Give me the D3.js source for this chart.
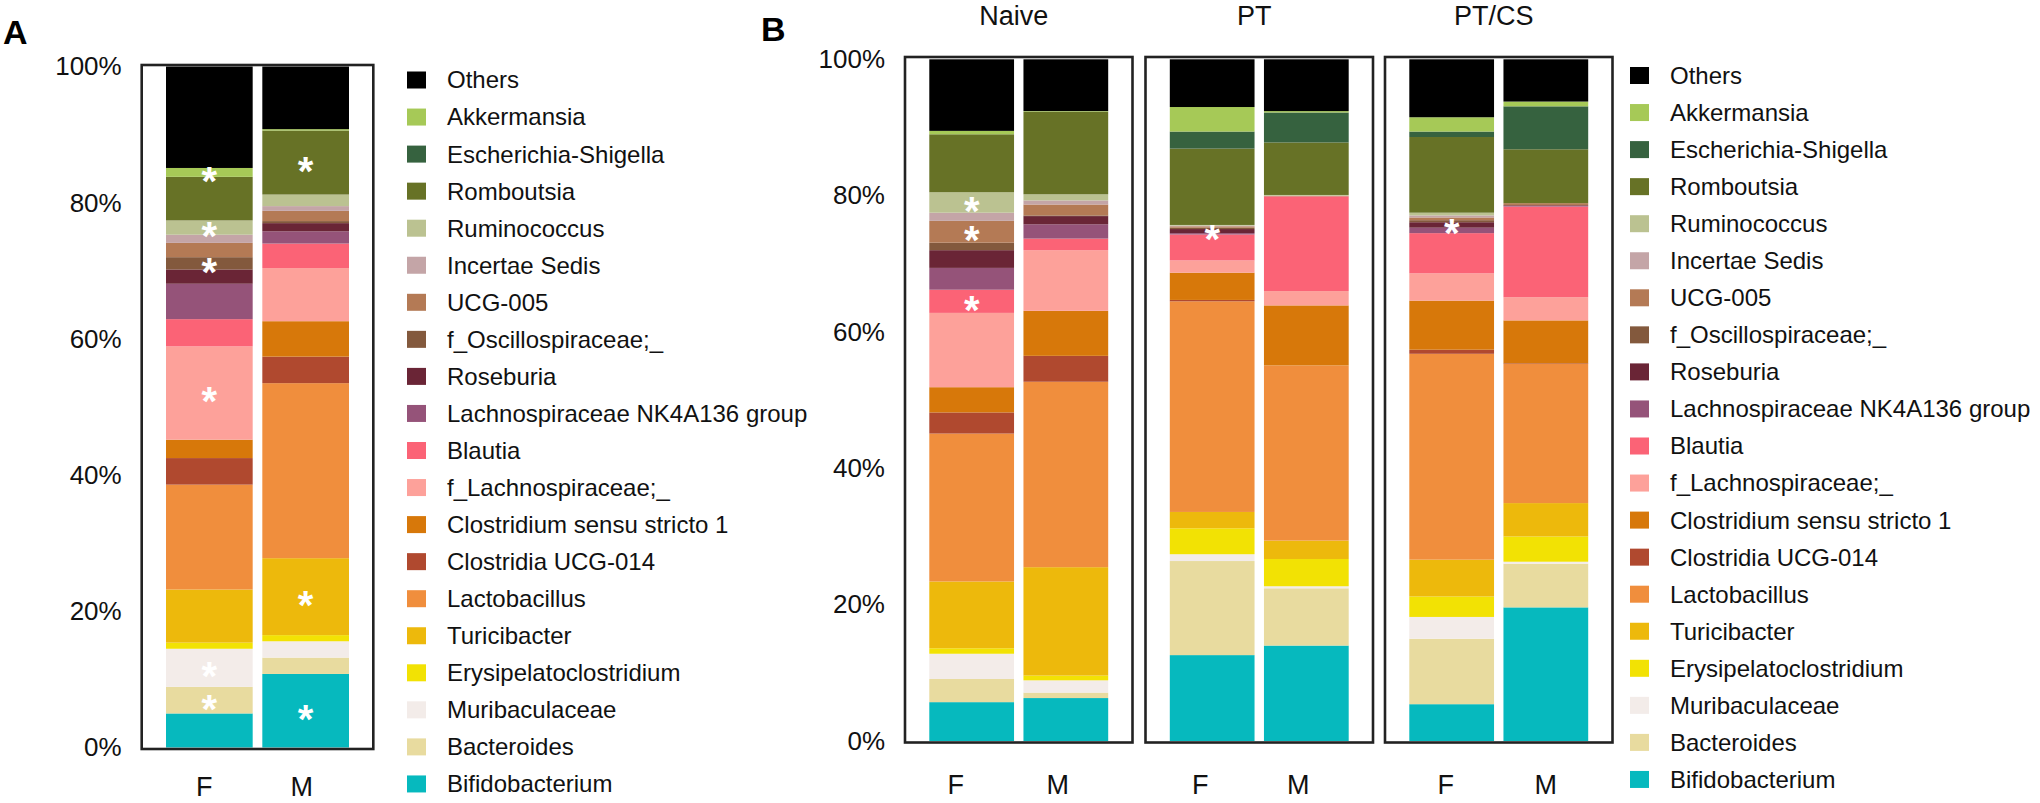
<!DOCTYPE html>
<html><head><meta charset="utf-8">
<script src="https://cdn.jsdelivr.net/npm/d3@7"></script>
<style>
body{margin:0;background:#fff}
text{font-family:"Liberation Sans",Arial,Helvetica,sans-serif}
</style>
</head><body>
<svg id="chart" width="2040" height="803"></svg>
<script>
// ---- data (stack order: bottom -> top) ----
const taxa = ["Bifidobacterium","Bacteroides","Muribaculaceae","Erysipelatoclostridium","Turicibacter",
  "Lactobacillus","Clostridia UCG-014","Clostridium sensu stricto 1","f_Lachnospiraceae;_","Blautia",
  "Lachnospiraceae NK4A136 group","Roseburia","f_Oscillospiraceae;_","UCG-005","Incertae Sedis",
  "Ruminococcus","Romboutsia","Escherichia-Shigella","Akkermansia","Others"];
const colors = ["#06B9BE","#E8DB9F","#F3ECE9","#F2E204","#EDB90C",
  "#F08E3D","#B0492F","#D7780A","#FDA19A","#FB6376",
  "#955379","#6A2536","#83593D","#B47A55","#C4A5A7",
  "#BBC291","#677226","#36623F","#A6C957","#000000"];
const sexes = ["F","M"];
const yTicks = [0,20,40,60,80,100];
const treatments = ["Naive","PT","PT/CS"];

// Panel A (percent)
const aF = [5.0,3.9,5.6,0.9,7.8,15.4,3.9,2.7,13.7,4.0,5.2,2.1,1.8,2.1,1.2,2.1,6.4,0.0,1.3,14.9];
const aM = [10.8,2.4,2.4,0.9,11.3,25.7,3.9,5.2,7.8,3.6,1.8,1.2,0.3,1.5,0.7,1.7,9.4,0.0,0.2,9.2];
// Panel B (percent)
const naiveF = [5.7,3.4,3.7,0.8,9.8,21.7,3.1,3.7,10.9,3.4,3.2,2.6,1.1,3.2,1.2,3.0,8.5,0.0,0.5,10.5];
const naiveM = [6.3,0.8,1.8,0.7,15.9,27.2,3.8,6.6,8.9,1.7,2.1,1.2,0.1,1.6,0.6,0.9,12.1,0.0,0.1,7.6];
const ptF = [12.6,13.8,1.0,3.8,2.4,30.9,0.2,4.0,1.8,3.8,0.2,0.6,0.2,0.2,0.1,0.1,11.2,2.5,3.6,7.0];
const ptM = [14.0,8.4,0.3,4.0,2.7,25.7,0.0,8.8,2.1,13.9,0.0,0.0,0.0,0.1,0.0,0.1,7.7,4.4,0.2,7.6];
const ptcsF = [5.4,9.6,3.2,3.0,5.4,30.2,0.6,7.2,4.0,5.9,0.8,0.8,0.3,0.4,0.3,0.4,11.1,0.8,2.1,8.5];
const ptcsM = [19.6,6.4,0.3,3.7,4.9,20.4,0.1,6.3,3.4,13.3,0.1,0.1,0.0,0.3,0.0,0.0,7.9,6.3,0.7,6.2];

// significance marks: [sex, taxon]
const starsA = [["F","Akkermansia"],["F","Ruminococcus"],["F","f_Oscillospiraceae;_"],["F","f_Lachnospiraceae;_"],
  ["F","Muribaculaceae"],["F","Bacteroides"],["M","Romboutsia"],["M","Turicibacter"],["M","Bifidobacterium"]];
const starsNaive = [["F","Ruminococcus"],["F","UCG-005"],["F","Blautia"]];
const starsPT = [["F","Roseburia"]];
const starsPTCS = [["F","Roseburia"]];

// ---- drawing ----
const svg = d3.select("#chart");
const FONT = '"Liberation Sans",Arial,Helvetica,sans-serif';
const color = d3.scaleOrdinal().domain(taxa).range(colors);

function rows(fVals, mVals){
  return [fVals, mVals].map((vals,i)=>{
    const r = {sex: sexes[i]};
    taxa.forEach((t,j)=> r[t]=vals[j]);
    return r;
  });
}
const stack = d3.stack().keys(taxa);

function drawPanel(cfg){
  const g = svg.append("g");
  const x = d3.scaleBand().domain(sexes).range([cfg.x0+24.3, cfg.x1-24.3]).paddingInner(0.1).paddingOuter(0);
  const y = d3.scaleLinear().domain([0,100]).range(cfg.yRange);
  const series = stack(cfg.data);

  g.selectAll("g.layer").data(series).join("g").attr("class","layer")
    .attr("fill", d=>color(d.key))
    .selectAll("rect").data(d=>d.map(p=>({p, key:d.key}))).join("rect")
    .attr("x", d=>x(d.p.data.sex))
    .attr("width", x.bandwidth())
    .attr("y", d=>y(d.p[1]))
    .attr("height", d=>Math.max(0, y(d.p[0])-y(d.p[1])));

  // stars
  const fs = 40;
  g.selectAll("text.star").data(cfg.stars).join("text").attr("class","star")
    .attr("x", d=>x(d[0])+x.bandwidth()/2)
    .attr("y", d=>{
      const s = series.find(q=>q.key===d[1]);
      const p = s[sexes.indexOf(d[0])];
      return y((p[0]+p[1])/2) + fs*0.56;
    })
    .attr("text-anchor","middle").attr("fill","#fff").attr("font-size",fs).attr("font-weight","bold")
    .text("*");

  // frame
  g.append("rect").attr("x",cfg.x0).attr("y",cfg.y0).attr("width",cfg.x1-cfg.x0).attr("height",cfg.y1-cfg.y0)
    .attr("fill","none").attr("stroke","#222").attr("stroke-width",2.6);

  if(cfg.axis){
    const ax = g.append("g").attr("transform",`translate(${cfg.x0},0)`)
      .call(d3.axisLeft(y).tickValues(yTicks).tickFormat(d=>d+"%").tickSize(0).tickPadding(20));
    ax.select(".domain").remove();
    ax.selectAll("text").attr("font-size",26).attr("font-family",FONT).attr("fill","#111");
  }
  const bx = g.append("g").attr("transform",`translate(0,${cfg.y1})`)
    .call(d3.axisBottom(x).tickSize(0).tickPadding(cfg.labelPad));
  bx.select(".domain").remove();
  bx.selectAll("text").attr("font-size",27).attr("font-family",FONT).attr("fill","#111")
    .attr("dx",(d,i)=>cfg.labelDx[i]);

  if(cfg.title){
    g.append("text").attr("x",(cfg.x0+cfg.x1)/2-5).attr("y",25).attr("text-anchor","middle")
      .attr("font-size",27).attr("fill","#111").text(cfg.title);
  }
}

function drawLegend(x0, yTop, step){
  const items = taxa.slice().reverse();
  const g = svg.append("g");
  const it = g.selectAll("g").data(items).join("g")
    .attr("transform",(d,i)=>`translate(${x0},${yTop+i*step})`);
  it.append("rect").attr("x",0).attr("y",-8.5).attr("width",19).attr("height",17).attr("fill",d=>color(d));
  it.append("text").attr("x",40).attr("y",0).attr("dy","0.35em").attr("font-size",24).attr("fill","#111").text(d=>d);
}

// Panel A
svg.append("text").attr("x",3).attr("y",44).attr("font-size",34).attr("font-weight","bold").attr("fill","#000").text("A");
drawPanel({data: rows(aF,aM), x0:141.7, x1:373.3, y0:65, y1:749, yRange:[747.5,66.5],
  stars: starsA, axis:true, labelDx:[-5,-4], labelPad:28});
drawLegend(407, 80, 37.05);

// Panel B
svg.append("text").attr("x",761).attr("y",41).attr("font-size",34).attr("font-weight","bold").attr("fill","#000").text("B");
const bData = [rows(naiveF,naiveM), rows(ptF,ptM), rows(ptcsF,ptcsM)];
const bStars = [starsNaive, starsPT, starsPTCS];
const bLefts = [905, 1145.5, 1385];
const bLabelDx = [[-16,-8],[-12,-8],[-6,0]];
treatments.forEach((t,i)=>{
  drawPanel({data:bData[i], x0:bLefts[i], x1:bLefts[i]+227.5, y0:57, y1:742.5, yRange:[741,59.3],
    stars:bStars[i], axis:i===0, title:t, labelDx:bLabelDx[i], labelPad:32});
});
drawLegend(1630, 75.5, 37.05);
</script>
</body></html>
